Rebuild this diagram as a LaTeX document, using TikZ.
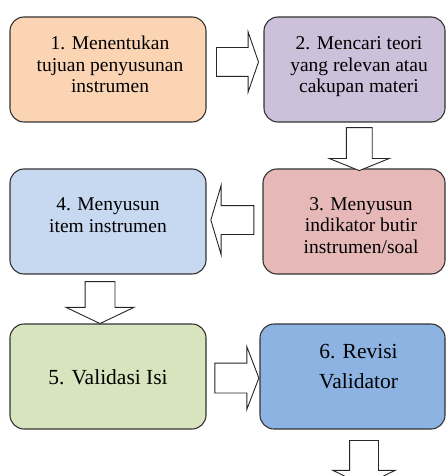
\documentclass[tikz,border=0pt]{standalone}
\usepackage{fontspec}
\setmainfont{Liberation Serif}
\usetikzlibrary{calc, positioning, shapes.arrows}

\definecolor{peach}{HTML}{FBD4B4}
\definecolor{lilac}{HTML}{CCC0DA}
\definecolor{rose}{HTML}{E6B9B8}
\definecolor{paleblue}{HTML}{C6D9F1}
\definecolor{sage}{HTML}{D7E4BD}
\definecolor{midblue}{HTML}{8DB3E2}

\begin{document}
\begin{tikzpicture}[x=1pt,y=-1pt,
                    box/.style={rectangle,rounded corners=14pt,draw=black!80,line width=1.1pt,
                                minimum width=196pt,minimum height=105pt,inner sep=0pt,outer sep=0pt},
                    txt/.style={align=center,inner sep=0pt,anchor=base,font=\fontsize{19.5}{21.5}\selectfont},
                    big txt/.style={align=center,inner sep=0pt,anchor=base,font=\fontsize{21.5}{29.5}\selectfont},
                    fat arrow/.style={single arrow,draw=black!85,fill=white,line width=0.9pt,
                                      single arrow head indent=0pt},
                    across/.style={inner xsep=0pt,inner ysep=#1},
                    downward/.style={inner ysep=0pt,inner xsep=#1,shape border rotate=270}]

  \useasboundingbox (0,0) rectangle (446,476);

  \node[box,fill=peach] (1) at (108,69.5) {};
  \node[box,fill=lilac,minimum width=181pt] (2) [right=58pt of 1] {};
  \node[box,fill=paleblue] (4) [below=47pt of 1] {};
  \node[box,fill=rose,minimum width=182pt] (3) [right=57pt of 4] {};
  \node[box,fill=sage] (5) [below=50pt of 4] {};
  \node[box,fill=midblue,minimum width=185pt] (6) [right=54pt of 5] {};

  % texts (base = last line)
  \node[txt] (t1) at ($(1.north)+(2,76)$) {1. Menentukan\\tujuan penyusunan\\instrumen};
  \node[txt] (t2) at ($(2.north)+(4.5,76)$) {2. Mencari teori\\yang relevan atau\\cakupan materi};
  \node[txt] (t3) at ($(3.north)+(7,84)$) {3. Menyusun\\indikator butir\\instrumen/soal};
  \node[txt] (t4) at ($(4.north)+(0,63)$) {4. Menyusun\\item instrumen};
  \node[big txt] (t5) at ($(5.north)+(0,60)$) {5. Validasi Isi};
  \node[big txt] (t6) at ($(6.north)+(6,64)$) {6. Revisi\\Validator};

  % block arrows
  \node[fat arrow,across=14pt,single arrow head extend=15.5pt,minimum height=42pt,
        single arrow tip angle=142] (a12) at ($(1.east)!0.5!(2.west)$) [yshift=7.5pt] {};
  \node[fat arrow,downward=12.5pt,single arrow head extend=17pt,minimum height=43pt,
        single arrow tip angle=136] (a23) at ($(2.south)!0.5!(3.north)$) [xshift=5pt,yshift=-1pt] {};
  \node[fat arrow,across=14pt,single arrow head extend=20pt,minimum height=43pt,
        single arrow tip angle=147,shape border rotate=180] (a34) at ($(3.west)!0.5!(4.east)$) [yshift=1.5pt] {};
  \node[fat arrow,downward=14.5pt,single arrow head extend=19pt,minimum height=42pt,
        single arrow tip angle=129] (a45) at ($(4.south)!0.5!(5.north)$) [xshift=-8pt] {};
  \node[fat arrow,across=14.5pt,single arrow head extend=16.5pt,minimum height=44pt,
        single arrow tip angle=138] (a56) at ($(5.east)!0.5!(6.west)$) [xshift=1pt,yshift=-1.5pt] {};
  \node[fat arrow,downward=14pt,single arrow head extend=16.5pt,minimum height=45pt,
        single arrow tip angle=128] (a6) at ($(6.south)+(11.5,30.5)$) {};

\end{tikzpicture}
\end{document}
